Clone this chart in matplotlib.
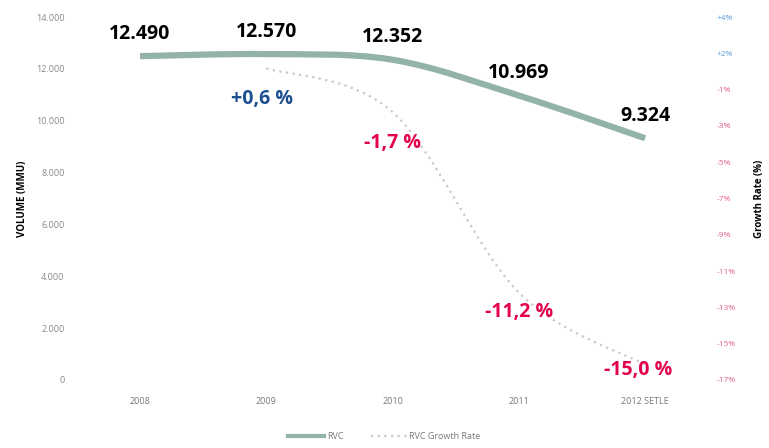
import numpy as np
import matplotlib.pyplot as plt
from matplotlib.path import Path
from matplotlib.patches import PathPatch
from matplotlib.lines import Line2D

years = ['2008', '2009', '2010', '2011', '2012 SETLE']
volume = [12490, 12570, 12352, 10969, 9324]
volume_labels = ['12.490', '12.570', '12.352', '10.969', '9.324']
growth = [0.6, -1.7, -11.2, -15.0]
growth_labels = ['+0,6 %', '-1,7 %', '-11,2 %', '-15,0 %']
left_ticks = [0, 2000, 4000, 6000, 8000, 10000, 12000, 14000]
left_tick_labels = ['0', '2.000', '4.000', '6.000', '8.000', '10.000', '12.000', '14.000']
right_tick_labels = ['+4%', '+2%', '-1%', '-3%', '-5%', '-7%', '-9%', '-11%', '-13%', '-15%', '-17%']

FONT = 'Open Sans'
LINE_COLOR = '#93b3aa'
DOT_COLOR = '#c9c9c9'
BLUE = '#1d4f91'
RED = '#e2004f'


def smooth_path(xs, ys):
    # Catmull-Rom style bezier through the points (like excel smoothed lines)
    pts = np.column_stack([xs, ys]).astype(float)
    ext = np.vstack([pts[0], pts, pts[-1]])
    verts = [tuple(pts[0])]
    codes = [Path.MOVETO]
    for i in range(1, len(ext) - 2):
        p0, p1, p2, p3 = ext[i - 1], ext[i], ext[i + 1], ext[i + 2]
        c1 = p1 + (p2 - p0) / 6.0
        c2 = p2 - (p3 - p1) / 6.0
        verts += [tuple(c1), tuple(c2), tuple(p2)]
        codes += [Path.CURVE4] * 3
    return Path(verts, codes)


fig = plt.figure(figsize=(7.69, 4.48), dpi=100)
ax = fig.add_axes([0.100, 0.152, 0.821, 0.810])
ax2 = ax.twinx()

x = np.arange(len(years))

ax.add_patch(PathPatch(smooth_path(x, volume), facecolor='none', edgecolor=LINE_COLOR,
                       lw=4.5, capstyle='butt', zorder=3))
ax.set_xlim(-0.5, 4.5)
ax.set_ylim(0, 14000)
ax.set_yticks(left_ticks)
ax.set_yticklabels(left_tick_labels, fontsize=6.5, color='#888888', family=FONT)
ax.set_xticks(x)
ax.set_xticklabels(years, fontsize=6.5, color='#777777', family=FONT)
ax.tick_params(axis='y', length=0, pad=9)
ax.tick_params(axis='x', length=0, pad=12)
ax.set_ylabel('VOLUME (MMU)', fontsize=7, fontweight='bold', family=FONT)
ax.yaxis.set_label_coords(-0.078, 0.5)

for xi, v, lab in zip(x, volume, volume_labels):
    ax.annotate(lab, (xi, v), xytext=(0, 9), textcoords='offset points', ha='center',
                va='bottom', fontsize=14, fontweight='bold', family=FONT, color='black')

gx = x[1:]
ax2.add_patch(PathPatch(smooth_path(gx, growth), facecolor='none', edgecolor=DOT_COLOR,
                        lw=1.6, linestyle=(0, (1, 2)), zorder=2))
ax2.set_ylim(-15.8, 3.3)
ax2.set_yticks(np.linspace(3.3, -15.8, len(right_tick_labels)))
ax2.set_yticklabels(right_tick_labels, fontsize=6, family=FONT)
for i, t in enumerate(ax2.get_yticklabels()):
    t.set_color('#5a9ad8' if i < 2 else '#e0608a')
ax2.tick_params(length=0, pad=6)
ax2.set_ylabel('Growth Rate (%)', fontsize=7, fontweight='bold', family=FONT, rotation=90)
ax2.yaxis.set_label_coords(1.072, 0.5)

growth_offsets = [(-3, -22), (0, -22), (0, -14), (-5, -4)]
for xi, g, lab, off in zip(gx, growth, growth_labels, growth_offsets):
    ax2.annotate(lab, (xi, g), xytext=off, textcoords='offset points', ha='center',
                 va='center', fontsize=14, fontweight='bold', family=FONT,
                 color=BLUE if g > 0 else RED)

for a in (ax, ax2):
    for s in a.spines.values():
        s.set_visible(False)

handles = [Line2D([], [], color=LINE_COLOR, lw=3),
           Line2D([], [], color=DOT_COLOR, lw=1.6, linestyle=(0, (1, 2)))]
leg = fig.legend(handles, ['RVC', 'RVC Growth Rate'], loc='center', bbox_to_anchor=(0.5, 0.025),
                 ncol=2, frameon=False, prop={'family': FONT, 'size': 6.5},
                 handlelength=4, columnspacing=3, handletextpad=0.3)
for t in leg.get_texts():
    t.set_color('#777777')

fig.savefig('out.png', dpi=100)
